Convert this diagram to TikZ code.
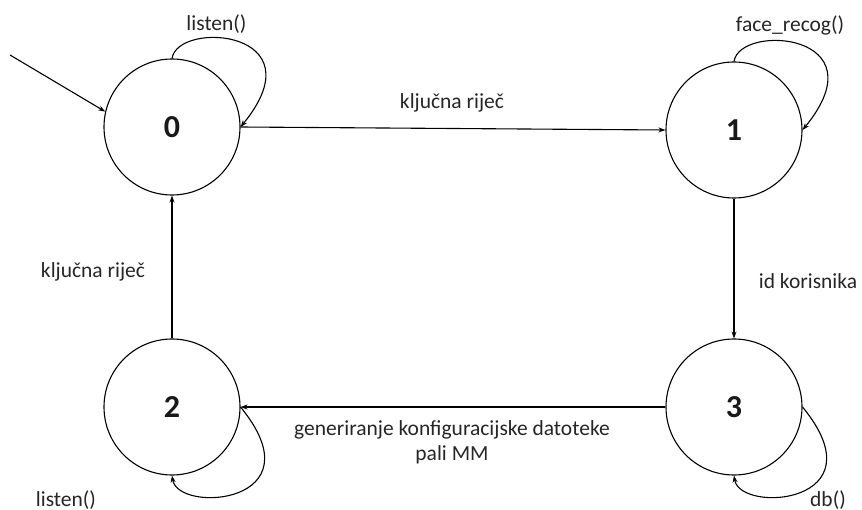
\documentclass[tikz,border=0pt]{standalone}
\usepackage{fontspec}
\setmainfont{Carlito}
\usetikzlibrary{arrows.meta}
\tikzset{
  state/.style={circle, draw=black, line width=1.1pt, minimum size=136pt, inner sep=0pt,
    font=\fontsize{32}{34}\bfseries\selectfont, text=black!90},
  edge/.style={draw=black, line width=1.1pt, -{Stealth[length=7pt,width=5pt]}},
  lbl/.style={font=\fontsize{21.5}{25}\selectfont, text=black!85, inner sep=0pt}
}
\begin{document}
\begin{tikzpicture}[x=1pt,y=-1pt]
  \useasboundingbox (0,0) rectangle (862,510);

  % states
  \node[state] (s0) at (172,127) {0};
  \node[state] (s1) at (734,130) {1};
  \node[state] (s2) at (172,407) {2};
  \node[state] (s3) at (734,407) {3};

  % initial arrow
  \coordinate (init) at (10,55);
  \draw[edge] (init) -- (s0.167);

  % transitions
  \draw[edge] (s0.east) -- (s1.west);
  \draw[edge] (s1.south) -- (s3.north);
  \draw[edge] (s3.west) -- (s2.east);
  \draw[edge] (s2.north) -- (s0.south);

  % self loops
  \draw[edge] (s0.north) .. controls (178,20) and (320,30) .. (s0.east);
  \draw[edge] (s1.north) .. controls (740,23) and (882,33) .. (s1.east);
  \draw[edge] (s2.east) .. controls (320,504) and (178,514) .. (s2.south);
  \draw[edge] (s3.east) .. controls (882,504) and (740,514) .. (s3.south);

  % labels
  \node[lbl] (l0) at (216.5,24) {listen()};
  \node[lbl] (l1) at (790,25) {face\_recog()};
  \node[lbl] (l01) at (452,103) {ključna riječ};
  \node[lbl] (l13) at (808,281) {id korisnika};
  \node[lbl] (l20) at (93,272) {ključna riječ};
  \node[lbl, align=center] (l32) at (452,442) {generiranje konfiguracijske datoteke\\pali MM};
  \node[lbl] (l2) at (66,500) {listen()};
  \node[lbl] (l3) at (828,500) {db()};
\end{tikzpicture}
\end{document}
